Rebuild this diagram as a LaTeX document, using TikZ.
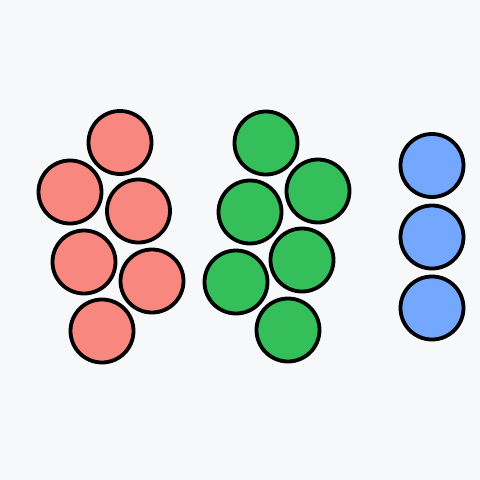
\documentclass[tikz,border=0pt]{standalone}
\definecolor{bg}{HTML}{F6F8FA}
\definecolor{redf}{HTML}{F7877F}
\definecolor{greenf}{HTML}{34BF5A}
\definecolor{bluef}{HTML}{74A8FF}
\begin{document}
\begin{tikzpicture}[x=1pt,y=-1pt,
  ball/.style={circle,draw=black,line width=3.8pt,minimum size=63pt,inner sep=0pt},
  redball/.style={ball,fill=redf},
  greenball/.style={ball,fill=greenf},
  blueball/.style={ball,fill=bluef}]
\fill[bg] (0,0) rectangle (480,480);
\useasboundingbox (0,0) rectangle (480,480);
\node[redball] (r1) at (120,142.5) {};
\node[redball] (r2) at (70,192) {};
\node[redball] (r3) at (138.5,211) {};
\node[redball] (r4) at (84,262) {};
\node[redball] (r5) at (152,281) {};
\node[redball] (r6) at (102,331) {};
\node[greenball] (g1) at (266,143) {};
\node[greenball] (g2) at (318,191) {};
\node[greenball] (g3) at (250,212) {};
\node[greenball] (g4) at (302,260) {};
\node[greenball] (g5) at (236,282) {};
\node[greenball] (g6) at (288,330) {};
\node[blueball] (b1) at (432,165.5) {};
\node[blueball] (b2) at (432,237) {};
\node[blueball] (b3) at (432,308) {};
\end{tikzpicture}
\end{document}
